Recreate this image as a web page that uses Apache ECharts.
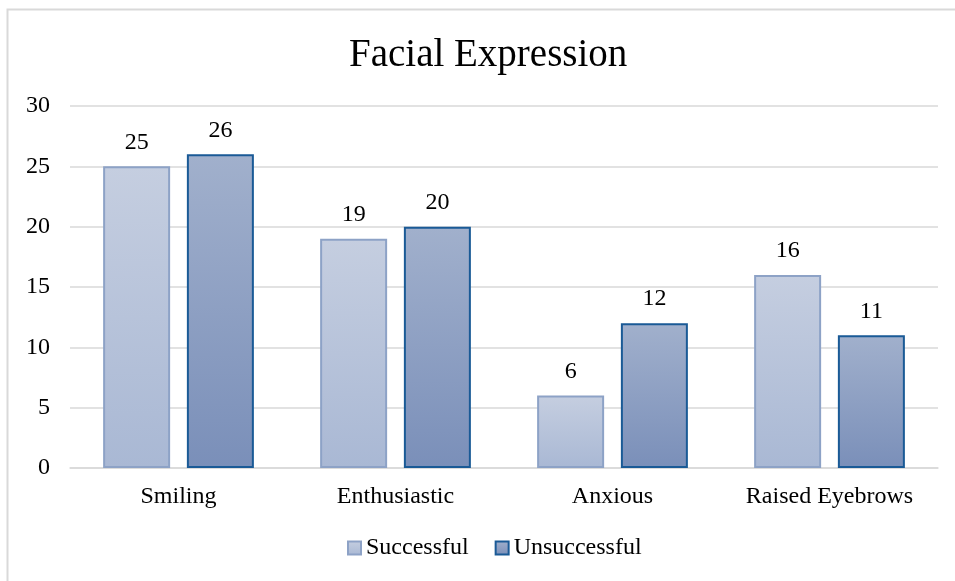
<!DOCTYPE html>
<html>
<head>
<meta charset="utf-8">
<script src="https://cdn.jsdelivr.net/npm/echarts@6/dist/echarts.min.js"></script>
<style>
html,body{margin:0;padding:0;background:#fff;}
#chart{width:955px;height:581px;}
</style>
</head>
<body>
<div id="chart"></div>
<script>
const categories = ['Smiling', 'Enthusiastic', 'Anxious', 'Raised Eyebrows'];
const successful = [25, 19, 6, 16];
const unsuccessful = [26, 20, 12, 11];
const yTicks = { min: 0, max: 30, interval: 5 };

const serif = '"Liberation Serif", "Times New Roman", serif';

function grad(top, bottom) {
  return new echarts.graphic.LinearGradient(0, 0, 0, 1, [
    { offset: 0, color: top },
    { offset: 1, color: bottom }
  ]);
}

const chart = echarts.init(document.getElementById('chart'), null, { renderer: 'canvas' });

const labelStyle = {
  show: true,
  position: 'top',
  distance: 12,
  fontFamily: serif,
  fontSize: 24,
  color: '#000'
};

chart.setOption({
  animation: false,
  backgroundColor: '#fff',
  title: {
    text: 'Facial Expression',
    left: 344,
    top: 31,
    textStyle: { fontFamily: serif, fontSize: 39, fontWeight: 'normal', color: '#000' }
  },
  legend: {
    bottom: 16,
    left: 342,
    icon: 'rect',
    itemWidth: 13,
    itemHeight: 13,
    itemGap: 26,
    textStyle: { fontFamily: serif, fontSize: 24, color: '#000' },
    data: ['Successful', 'Unsuccessful']
  },
  grid: { left: 70, right: 17, top: 106, bottom: 113, containLabel: false },
  xAxis: {
    type: 'category',
    data: categories,
    axisTick: { show: false },
    axisLine: { lineStyle: { color: '#d9d9d9', width: 1.5 } },
    axisLabel: { interval: 0, fontFamily: serif, fontSize: 24, color: '#000', margin: 17 }
  },
  yAxis: {
    type: 'value',
    min: yTicks.min,
    max: yTicks.max,
    interval: yTicks.interval,
    axisLine: { show: false },
    axisTick: { show: false },
    axisLabel: { fontFamily: serif, fontSize: 24, color: '#000', margin: 20 },
    splitLine: { lineStyle: { color: '#d9d9d9', width: 1.5 } }
  },
  graphic: [{
    type: 'rect',
    shape: { x: 7.5, y: 9.5, width: 1000, height: 700 },
    style: { fill: 'none', stroke: '#d9d9d9', lineWidth: 2 },
    silent: true,
    z: -1
  }],
  series: [
    {
      name: 'Successful',
      type: 'bar',
      data: successful,
      barWidth: 67,
      barGap: '25%',
      itemStyle: {
        color: grad('#c5cee0', '#a9b8d4'),
        borderColor: '#8da2c6',
        borderWidth: 2
      },
      label: labelStyle
    },
    {
      name: 'Unsuccessful',
      type: 'bar',
      data: unsuccessful,
      barWidth: 67,
      barGap: '25%',
      itemStyle: {
        color: grad('#a1b0cc', '#7a8fb9'),
        borderColor: '#1a5a96',
        borderWidth: 2
      },
      label: labelStyle
    }
  ]
});
</script>
</body>
</html>
